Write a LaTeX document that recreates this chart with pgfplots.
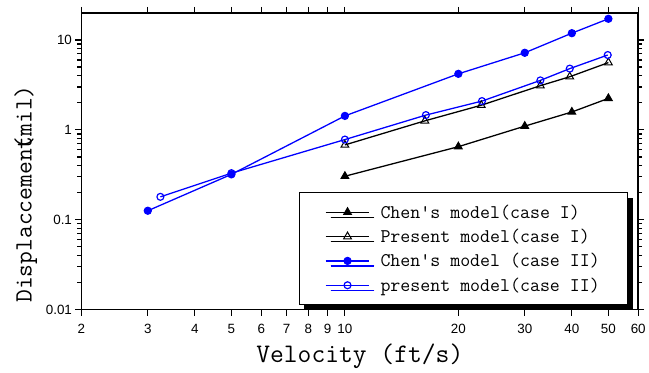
\documentclass[border=0pt]{standalone}
\usepackage{pgfplots}
\pgfplotsset{compat=1.18}
\usepackage{fontspec}
\setmainfont{Liberation Sans}
\usetikzlibrary{shadows}
\definecolor{bl}{RGB}{0,0,255}
\begin{document}
\begin{tikzpicture}
\begin{axis}[
  name=ax,
  scale only axis, width=561pt, height=299pt,
  xmode=log, ymode=log,
  xmin=2, xmax=60, ymin=0.01, ymax=20,
  xtick={2,3,4,5,6,7,8,9,10,20,30,40,50,60},
  xticklabels={2,3,4,5,6,7,8,9,10,20,30,40,50,60},
  ytick={0.01,0.1,1,10},
  yticklabels={0.01,0.1,1,10},
  minor xtick={},
  tick align=outside,
  major tick length=6pt, minor tick length=4pt,
  axis line style={line width=1.6pt},
  every tick/.style={line width=1.2pt, black},
  tick label style={font=\fontsize{13.5}{14}\selectfont},
  xticklabel style={yshift=-5pt},
  /pgf/number format/assume math mode=true,
  xlabel={\ttfamily\fontsize{27}{27}\selectfont Velocity (ft/s)},
  ylabel={\ttfamily\fontsize{25}{25}\selectfont Displaccemen\rlap{t}(mil)},
  xlabel style={yshift=-4pt},
  ylabel style={at={(ticklabel cs:0.39)}, yshift=2pt},
  legend cell align=left,
  legend style={at={(0.982,0.015)}, anchor=south east,
    draw=black, line width=1.2pt, fill=white,
    drop shadow={shadow xshift=5pt, shadow yshift=-5pt, fill=black, opacity=1},
    font=\ttfamily\fontsize{19.5}{19.5}\selectfont,
    row sep=5.5pt, inner xsep=26pt, inner ysep=10pt},
  legend image code/.code={\draw[#1] (0cm,0cm) -- (1.55cm,0cm); \draw[#1, mark repeat=1] plot coordinates {(0.775cm,0cm)}; \path (1.85cm,0cm);},
]
\addplot[black, line width=1.3pt, mark=triangle*, mark size=4.5pt, mark options={solid, line width=1pt}] coordinates {
 (10,0.305) (20,0.65) (30,1.1) (40,1.58) (50,2.24)};
\addlegendentry{Chen's model(case I)}
\addplot[black, line width=1.3pt, mark=triangle, mark size=4.5pt, mark options={solid, line width=1pt, fill=white}] coordinates {
 (10,0.68) (16.3,1.26) (23,1.88) (33,3.1) (39.5,3.9) (50,5.6)};
\addlegendentry{Present model(case I)}
\addplot[bl, line width=1.3pt, mark=*, mark size=3.5pt, mark options={solid}] coordinates {
 (3,0.126) (5,0.32) (10,1.43) (20,4.2) (30,7.2) (40,11.9) (50,17.2)};
\addlegendentry{Chen's model (case II)}
\addplot[bl, line width=1.3pt, mark=o, mark size=3.5pt, mark options={solid, line width=1.2pt, fill=white}] coordinates {
 (3.24,0.18) (5,0.33) (10,0.78) (16.4,1.46) (23.1,2.09) (33,3.55) (39.5,4.8) (49.8,6.8)};
\addlegendentry{present model(case II)\hspace{14pt}}
\end{axis}
\path (ax.north west) ++(-82pt,13pt);
\end{tikzpicture}
\end{document}
